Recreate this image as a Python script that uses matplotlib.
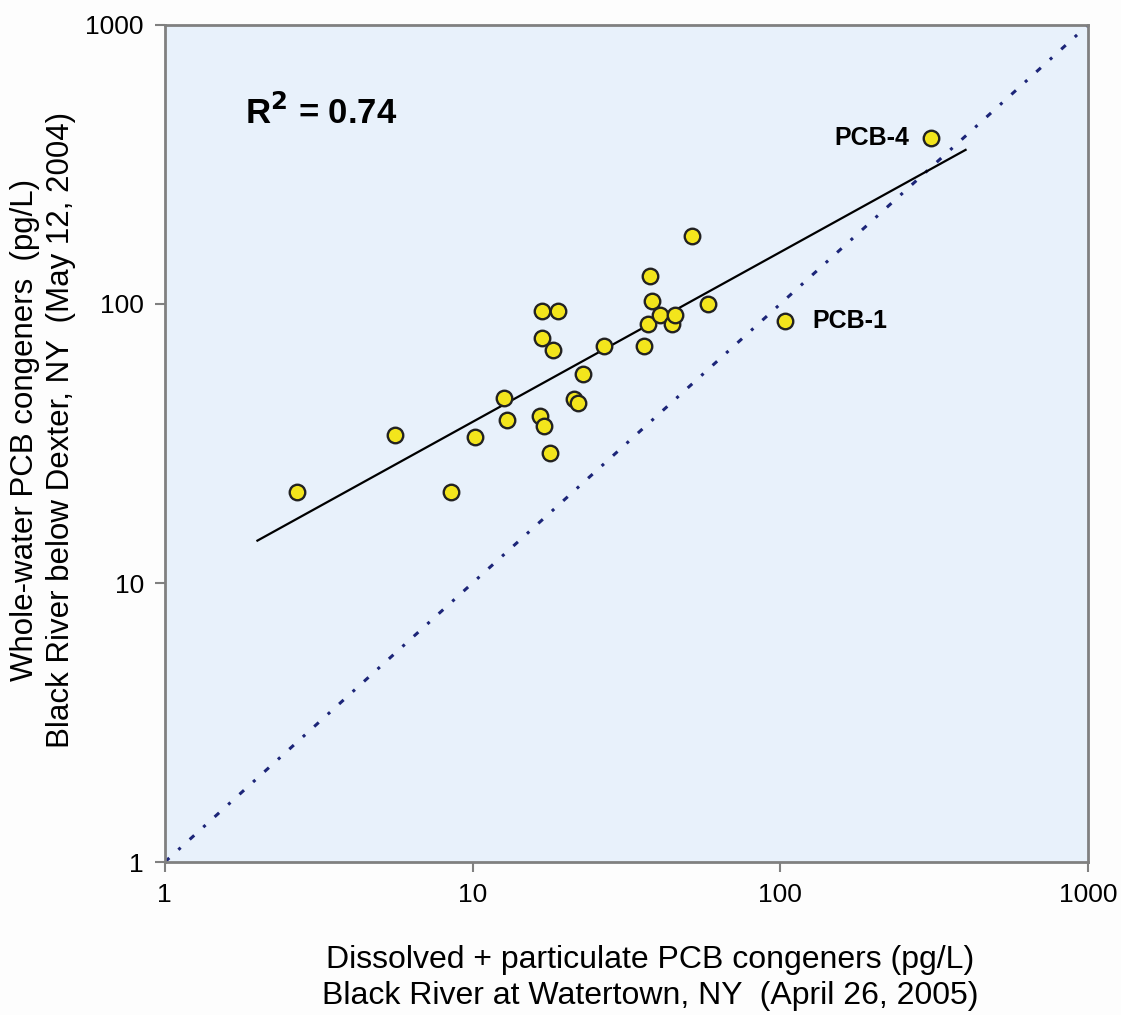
#!/usr/bin/env python3

import numpy as np
from matplotlib import pyplot as plt
from matplotlib.ticker import FixedLocator, NullLocator

# Dissolved + particulate (x) vs whole-water (y), pg/L
X_VALS = [2.68, 5.61, 8.48, 10.2, 12.7, 12.9, 16.8, 18.9, 16.8, 18.3, 16.6, 17.1,
          17.8, 21.3, 22.0, 22.9, 26.7, 36.2, 37.3, 37.8, 38.4, 40.6, 44.6, 45.4,
          58.4, 51.8, 309.0, 103.6]
Y_VALS = [21.2, 34.0, 21.2, 33.4, 46.0, 38.3, 94.2, 94.2, 75.7, 68.2, 39.7, 36.6,
          29.2, 45.8, 44.0, 56.0, 70.5, 70.5, 84.8, 125.7, 102.8, 91.3, 84.8, 91.6,
          100.0, 175.0, 394.0, 87.1]
FIT_RANGE = [2.0, 400.0]
TICKS = [1, 10, 100, 1000]
TICK_LABELS = ["1", "10", "100", "1000"]

X_LABEL = "Dissolved + particulate PCB congeners (pg/L)\nBlack River at Watertown, NY  (April 26, 2005)"
Y_LABEL = "Whole-water PCB congeners  (pg/L)\nBlack River below Dexter, NY  (May 12, 2004)"


def main():
    plt.rcParams["font.family"] = ["Liberation Sans", "DejaVu Sans"]

    fig = plt.figure(figsize=(11.21, 10.15), dpi=100, facecolor="#fdfdfd")
    ax = fig.add_axes((0.147, 0.1507, 0.8236, 0.8247))
    ax.set_facecolor("#e8f1fb")

    # 1:1 line
    ax.plot([1, 1000], [1, 1000], color="#1c2578", linewidth=2.2,
            linestyle=(0, (2, 4, 1, 4)), zorder=2)

    # power-law fit in log space
    x = np.array(X_VALS)
    y = np.array(Y_VALS)
    b, a = np.polyfit(np.log10(x), np.log10(y), 1)
    fx = np.array(FIT_RANGE)
    ax.plot(fx, 10 ** (a + b * np.log10(fx)), color="black", linewidth=1.6, zorder=3)

    ax.scatter(x, y, s=125, facecolor="#f3e51c", edgecolor="#222222",
               linewidth=1.7, zorder=4)

    ax.set_xscale("log")
    ax.set_yscale("log")
    ax.set_xlim(1, 1000)
    ax.set_ylim(1, 1000)
    ax.xaxis.set_major_locator(FixedLocator(TICKS))
    ax.yaxis.set_major_locator(FixedLocator(TICKS))
    ax.xaxis.set_minor_locator(NullLocator())
    ax.yaxis.set_minor_locator(NullLocator())
    ax.set_xticklabels(TICK_LABELS)
    ax.set_yticklabels(TICK_LABELS)
    ax.tick_params(labelsize=19, length=7, width=1.5, color="#808080", pad=8)
    for spine in ax.spines.values():
        spine.set_color("#808080")
        spine.set_linewidth(2)

    ax.text(0.087, 0.895, r"R$^{\mathbf{2}}$ = 0.74", transform=ax.transAxes,
            fontsize=25, fontweight="bold", va="center")
    ax.text(262, 394, "PCB-4", fontsize=18, fontweight="bold", ha="right", va="center")
    ax.text(127, 87.1, "PCB-1", fontsize=18, fontweight="bold", ha="left", va="center")

    fig.text(650 / 1121, 1 - 978 / 1015, X_LABEL, fontsize=23, ha="center",
             va="center", linespacing=1.25)
    fig.text(43 / 1121, 1 - 430 / 1015, Y_LABEL, fontsize=22.5, ha="center",
             va="center", rotation=90, linespacing=1.3)

    fig.savefig("out.png", dpi=100, facecolor=fig.get_facecolor())


if __name__ == "__main__":
    main()
